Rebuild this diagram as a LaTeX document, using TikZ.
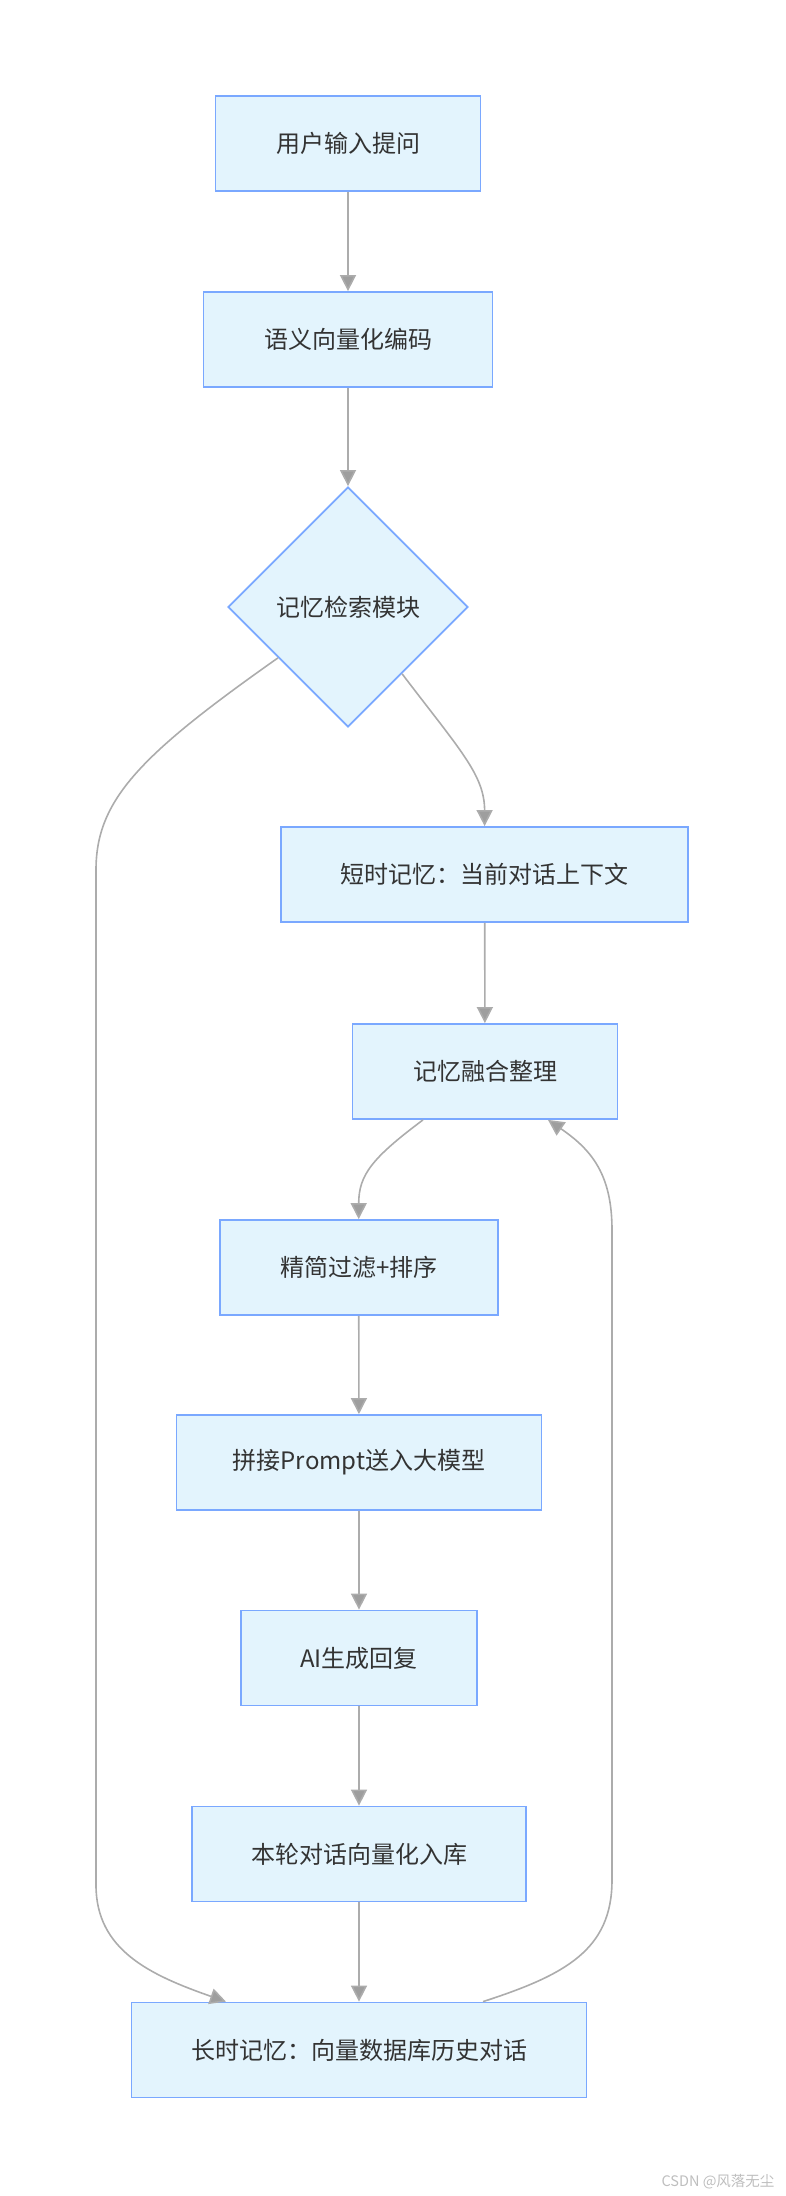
\documentclass[tikz,border=0pt]{standalone}
\usepackage{fontspec}
\setmainfont{Noto Sans CJK SC}
\usepackage{xcolor}
\definecolor{flfill}{RGB}{227,244,253}
\definecolor{flblue}{RGB}{122,168,255}
\definecolor{flgray}{RGB}{172,172,172}
\definecolor{flhead}{RGB}{158,158,158}
\definecolor{fltext}{RGB}{51,51,51}
\definecolor{flmark}{RGB}{190,190,190}
\usetikzlibrary{arrows.meta,shapes.geometric}

\begin{document}
\begin{tikzpicture}[
  x=1pt, y=-1pt,
  every node/.style={font=\fontsize{24}{29}\selectfont,text=fltext},
  procbox/.style={draw=flblue,fill=flfill,line width=1.8pt,
                  minimum height=95pt,inner sep=0pt,align=center},
  decbox/.style={draw=flblue,fill=flfill,line width=1.8pt,diamond,aspect=1,
                 minimum width=240pt,minimum height=240pt,inner sep=0pt},
  flow/.style={draw=flgray,line width=1.6pt,
               -{Triangle[length=16pt 0 0,width=16pt 0 0,fill=flhead]}},
]
  \useasboundingbox (0,0) rectangle (785,2196);

  % input and encoding
  \node[procbox,minimum width=265pt] (ask) at (348,143.5) {用户输入提问};
  \node[procbox,minimum width=289pt] (enc) at (348,339.5) {语义向量化编码};
  \draw[flow] (ask) -- (enc);

  % retrieval
  \node[decbox] (ret) at (348,607) {记忆检索模块};
  \draw[flow] (enc) -- (ret);

  % short term memory
  \node[procbox,minimum width=407pt] (stm) at (484.6,874.5) {短时记忆：当前对话上下文};
  \draw[flow] (ret.-51) .. controls (460,750) and (484.6,775) .. (stm.north);

  % fusion
  \node[procbox,minimum width=265pt] (fuse) at (485,1071.5) {记忆融合整理};
  \draw[flow] (stm) -- (fuse);

  % main chain
  \node[procbox,minimum width=278pt] (filt) at (358.7,1267.5) {精简过滤+排序};
  \node[procbox,minimum width=365pt] (prm) at (359,1462.5) {拼接Prompt送入大模型};
  \node[procbox,minimum width=236pt] (gen) at (359,1658) {AI生成回复};
  \node[procbox,minimum width=334pt] (sto) at (359,1854) {本轮对话向量化入库};
  \node[procbox,minimum width=455pt] (ltm) at (359,2050) {长时记忆：向量数据库历史对话};
  \draw[flow] ([xshift=-62pt]fuse.south) .. controls (372,1158) and (358.7,1175) .. (filt.north);
  \draw[flow] (filt) -- (prm);
  \draw[flow] (prm) -- (gen);
  \draw[flow] (gen) -- (sto);
  \draw[flow] (sto) -- (ltm);

  % long term memory loops
  \draw[flow] (ret.216) .. controls (140,755) and (96,800) .. (96,870)
    -- (96,1885) .. controls (96,1950) and (150,1975) .. (ltm.160);
  \draw[flow] ([xshift=124pt]ltm.north) .. controls (565,1975) and (612,1950) .. (612,1880)
    -- (612,1230) .. controls (612,1175) and (592,1150) .. ([xshift=63pt]fuse.south);

  % watermark
  \node[anchor=east,font=\fontsize{14.5}{17}\selectfont,text=flmark] (mark)
    at (778,2182) {CSDN @风落无尘};
\end{tikzpicture}
\end{document}
